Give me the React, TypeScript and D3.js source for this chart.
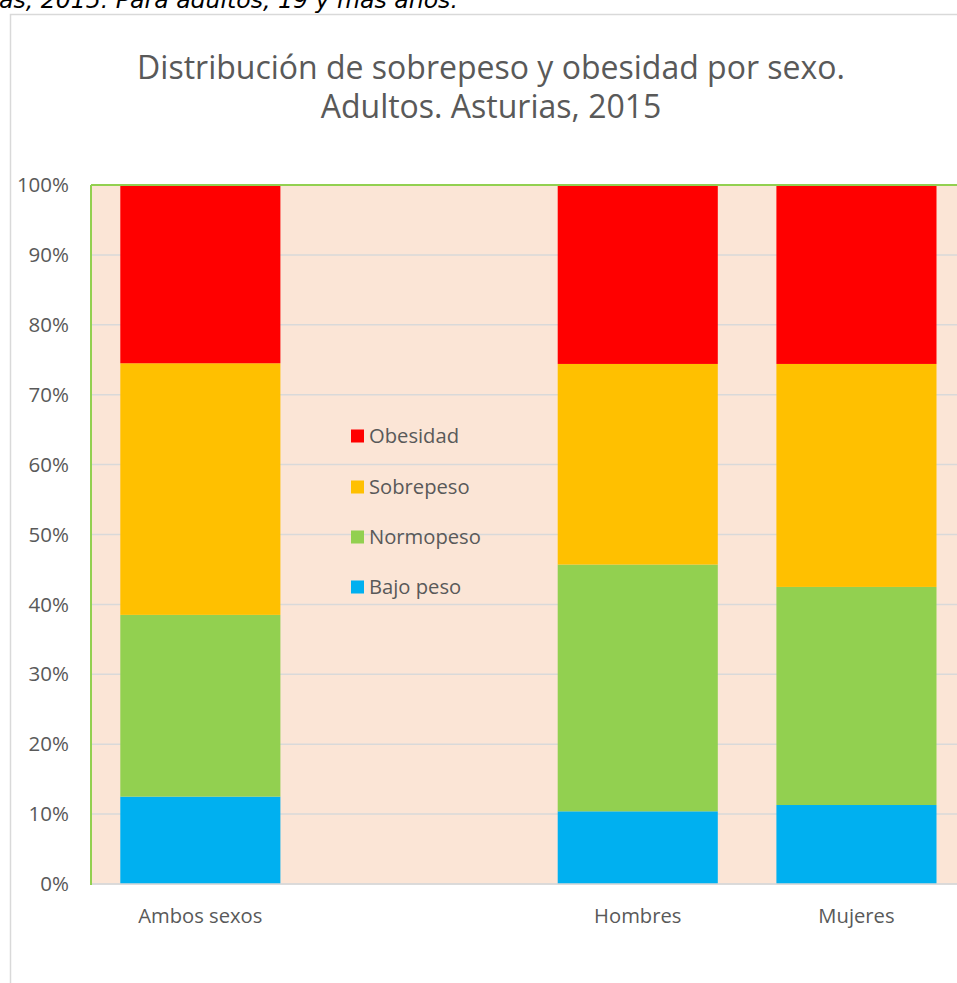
import React from "react";
import * as d3 from "d3";

const categories = ["Ambos sexos", "", "Hombres", "Mujeres"];
const seriesNames = ["Bajo peso", "Normopeso", "Sobrepeso", "Obesidad"];
const bajoPeso = [12.5, 0, 10.4, 11.3];
const normopeso = [26.0, 0, 35.3, 31.2];
const sobrepeso = [36.0, 0, 28.7, 31.9];
const obesidad = [25.5, 0, 25.6, 25.6];
const seriesColors = ["#00B0F0", "#92D050", "#FFC000", "#FF0000"];
const yTicks = [0, 10, 20, 30, 40, 50, 60, 70, 80, 90, 100];
const titleLines = ["Distribución de sobrepeso y obesidad por sexo.", "Adultos. Asturias, 2015"];
const topText = "as, 2015. Para adultos, 19 y más años.";

const W = 957;
const H = 983;
const font = "'Open Sans', sans-serif";

export default function App() {
  const plotLeft = 91;
  const plotTop = 185;
  const plotBottom = 884;
  const step = 218.7;
  const x = d3
    .scaleBand<string>()
    .domain(categories.map((c, i) => String(i)))
    .range([plotLeft, plotLeft + step * categories.length])
    .paddingInner(0.268)
    .paddingOuter(0.134);
  const y = d3.scaleLinear().domain([0, 100]).range([plotBottom, plotTop]);

  const table = categories.map((c, i) => ({
    key: String(i),
    "Bajo peso": bajoPeso[i],
    Normopeso: normopeso[i],
    Sobrepeso: sobrepeso[i],
    Obesidad: obesidad[i],
  }));
  const stacked = d3.stack<any>().keys(seriesNames)(table);

  const legendOrder = [3, 2, 1, 0];
  const legendY = [436, 487, 537, 587];

  return (
    <svg
      width={W}
      height={H}
      style={{ position: "absolute", left: 0, top: 0, display: "block", background: "#fff" }}
    >
      <text
        x={-1}
        y={8}
        fontFamily="'DejaVu Sans', sans-serif"
        fontStyle="italic"
        fontSize={23.6}
        fill="#000"
      >
        {topText}
      </text>
      <rect x={10.5} y={14.5} width={W + 20} height={H} fill="#fff" stroke="#D9D9D9" strokeWidth={1.5} />
      {titleLines.map((t, i) => (
        <text
          key={i}
          x={491}
          y={79 + i * 39}
          textAnchor="middle"
          fontFamily={font}
          fontSize={32}
          fill="#595959"
        >
          {t}
        </text>
      ))}
      <rect x={plotLeft} y={plotTop} width={step * 4} height={plotBottom - plotTop} fill="#FBE5D6" />
      {yTicks.map((t) => (
        <g key={t}>
          <line x1={plotLeft} x2={plotLeft + step * 4} y1={y(t)} y2={y(t)} stroke="#D9D9D9" strokeWidth={1.5} />
          <text
            x={69}
            y={y(t)}
            dy="0.35em"
            textAnchor="end"
            fontFamily={font}
            fontSize={20.5}
            fill="#595959"
          >
            {t}%
          </text>
        </g>
      ))}
      {stacked.map((s, si) => (
        <g key={s.key} fill={seriesColors[si]}>
          {s.map((d: any, i: number) =>
            d[1] - d[0] > 0 ? (
              <rect
                key={i}
                x={x(String(i))}
                width={x.bandwidth()}
                y={y(d[1])}
                height={y(d[0]) - y(d[1])}
              />
            ) : null
          )}
        </g>
      ))}
      <line x1={plotLeft} x2={plotLeft + step * 4} y1={plotBottom} y2={plotBottom} stroke="#D9D9D9" strokeWidth={1.5} />
      <line x1={plotLeft} x2={plotLeft + step * 4} y1={plotTop} y2={plotTop} stroke="#92D050" strokeWidth={2} />
      <line x1={plotLeft} x2={plotLeft} y1={plotTop} y2={plotBottom + 1} stroke="#92D050" strokeWidth={2} />
      {categories.map((c, i) => (
        <text
          key={i}
          x={(x(String(i)) as number) + x.bandwidth() / 2}
          y={916}
          dy="0.35em"
          textAnchor="middle"
          fontFamily={font}
          fontSize={20.2}
          fill="#595959"
        >
          {c}
        </text>
      ))}
      {legendOrder.map((si, k) => (
        <g key={si}>
          <rect x={351} y={legendY[k] - 6.5} width={13} height={13} fill={seriesColors[si]} />
          <text x={369} y={legendY[k]} dy="0.35em" fontFamily={font} fontSize={20.2} fill="#595959">
            {seriesNames[si]}
          </text>
        </g>
      ))}
    </svg>
  );
}
